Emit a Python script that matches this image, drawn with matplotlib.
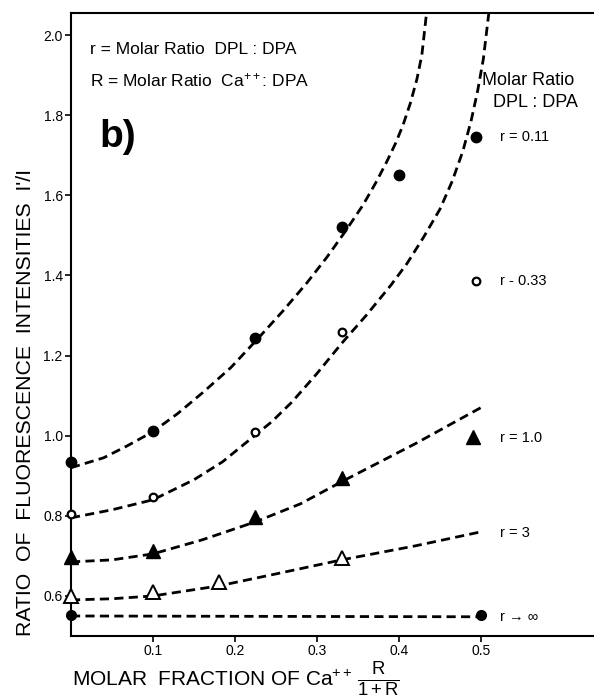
import matplotlib
matplotlib.use('Agg')
import matplotlib.pyplot as plt

plt.rcParams['font.family'] = ['Liberation Sans', 'DejaVu Sans']
plt.rcParams['mathtext.fontset'] = 'custom'
plt.rcParams['mathtext.rm'] = 'Liberation Sans'
plt.rcParams['mathtext.it'] = 'Liberation Sans:italic'
plt.rcParams['mathtext.bf'] = 'Liberation Sans:bold'

# measured points
r011_x = [0, 0.1, 0.225, 0.33, 0.40]
r011_y = [0.934, 1.012, 1.243, 1.522, 1.651]
r033_x = [0, 0.1, 0.225, 0.33]
r033_y = [0.804, 0.847, 1.008, 1.258]
r1_x = [0, 0.1, 0.225, 0.33]
r1_y = [0.697, 0.712, 0.797, 0.895]
r3_x = [0, 0.1, 0.18, 0.33]
r3_y = [0.600, 0.610, 0.635, 0.695]
rinf_x = [0, 0.5]
rinf_y = [0.553, 0.553]

# dashed fit curves
c011_x = [0, 0.04, 0.068, 0.1, 0.13, 0.161, 0.195, 0.227, 0.258, 0.288, 0.312, 0.334,
          0.356, 0.372, 0.385, 0.396, 0.405, 0.414, 0.422, 0.428, 0.434]
c011_y = [0.92, 0.945, 0.974, 1.01, 1.055, 1.108, 1.17, 1.24, 1.31, 1.382, 1.445, 1.508,
          1.575, 1.632, 1.683, 1.73, 1.775, 1.83, 1.89, 1.95, 2.06]
c033_x = [0, 0.05, 0.1, 0.15, 0.185, 0.215, 0.245, 0.27, 0.3, 0.33, 0.36, 0.39, 0.41,
          0.43, 0.45, 0.465, 0.478, 0.488, 0.496, 0.503, 0.51]
c033_y = [0.795, 0.815, 0.84, 0.89, 0.935, 0.985, 1.035, 1.085, 1.155, 1.23, 1.30, 1.375,
          1.43, 1.495, 1.565, 1.635, 1.71, 1.785, 1.86, 1.94, 2.06]
c1_x = [0, 0.05, 0.1, 0.16, 0.225, 0.28, 0.33, 0.42, 0.5]
c1_y = [0.685, 0.69, 0.705, 0.74, 0.785, 0.83, 0.885, 0.98, 1.07]
c3_x = [0, 0.05, 0.1, 0.18, 0.25, 0.33, 0.42, 0.5]
c3_y = [0.59, 0.593, 0.60, 0.625, 0.655, 0.69, 0.725, 0.76]
cinf_x = [0, 0.5]
cinf_y = [0.55, 0.548]

# key markers drawn next to the right-hand labels
key_x = [0.494, 0.494, 0.49]
key_y = [1.746, 1.387, 0.996]

xticks = [0.1, 0.2, 0.3, 0.4, 0.5]
yticks = [0.6, 0.8, 1.0, 1.2, 1.4, 1.6, 1.8, 2.0]

fig = plt.figure(figsize=(5.94, 6.98), dpi=100)
ax = fig.add_axes([0.1195, 0.0888, 0.8805, 0.8926])

dash = dict(color='black', lw=2.0, dashes=(3.3, 1.9))
ax.plot(c011_x, c011_y, **dash)
ax.plot(c033_x, c033_y, **dash)
ax.plot(c1_x, c1_y, **dash)
ax.plot(c3_x, c3_y, **dash)
ax.plot(cinf_x, cinf_y, **dash)

ax.plot(r011_x, r011_y, 'o', color='black', ms=7.5, ls='none', clip_on=False, zorder=4)
ax.plot(r033_x, r033_y, 'o', mfc='white', mec='black', mew=1.6, ms=5.5, ls='none', clip_on=False, zorder=4)
ax.plot(r1_x, r1_y, '^', color='black', ms=10, ls='none', clip_on=False, zorder=4)
ax.plot(r3_x, r3_y, '^', mfc='white', mec='black', mew=1.4, ms=9.5, ls='none', clip_on=False, zorder=4)
ax.plot(rinf_x, rinf_y, 'o', color='black', ms=7, ls='none', clip_on=False, zorder=4)

ax.plot(key_x[0], key_y[0], 'o', color='black', ms=7.5)
ax.plot(key_x[1], key_y[1], 'o', mfc='white', mec='black', mew=1.6, ms=5.5)
ax.plot(key_x[2], key_y[2], '^', color='black', ms=10)

ax.set_xlim(0, 0.638)
ax.set_ylim(0.5, 2.055)
ax.set_xticks(xticks)
ax.set_xticklabels(['%.1f' % v for v in xticks])
ax.set_yticks(yticks)
ax.set_yticklabels(['%.1f' % v for v in yticks])
ax.tick_params(direction='out', length=4, width=1.2, labelsize=10, pad=2)
ax.spines['right'].set_visible(False)
for s in ['left', 'bottom', 'top']:
    ax.spines[s].set_linewidth(1.5)

ax.text(0.036, 0.941, 'r = Molar Ratio  DPL : DPA', transform=ax.transAxes, fontsize=12.5, va='center')
ax.text(0.036, 0.892, 'R = Molar Ratio  Ca$^{++}$: DPA', transform=ax.transAxes, fontsize=12.5, va='center')
ax.text(0.055, 0.801, 'b)', transform=ax.transAxes, fontsize=28, fontweight='bold', va='center')

ax.text(0.786, 0.892, 'Molar Ratio', transform=ax.transAxes, fontsize=13, va='center')
ax.text(0.807, 0.856, 'DPL : DPA', transform=ax.transAxes, fontsize=13, va='center')
ax.text(0.82, 0.801, 'r = 0.11', transform=ax.transAxes, fontsize=10.5, va='center')
ax.text(0.82, 0.570, 'r - 0.33', transform=ax.transAxes, fontsize=10.5, va='center')
ax.text(0.82, 0.318, 'r = 1.0', transform=ax.transAxes, fontsize=10.5, va='center')
ax.text(0.82, 0.165, 'r = 3', transform=ax.transAxes, fontsize=10.5, va='center')
ax.text(0.82, 0.030, 'r \u2192 \u221e', transform=ax.transAxes, fontsize=10.5, va='center')

fig.text(26 / 594, 1 - 403 / 698, "RATIO  OF  FLUORESCENCE  INTENSITIES  I'/I",
         rotation=90, ha='center', va='center', fontsize=15.3)
fig.text(72 / 594, 1 - 686 / 698, r'MOLAR  FRACTION OF Ca$^{++}$',
         ha='left', va='baseline', fontsize=15)
fig.text(357 / 594, 1 - 680 / 698, r'$\frac{\mathrm{R}}{\mathrm{1+R}}$',
         ha='left', va='center', fontsize=19)

fig.savefig('out.png', dpi=100)
